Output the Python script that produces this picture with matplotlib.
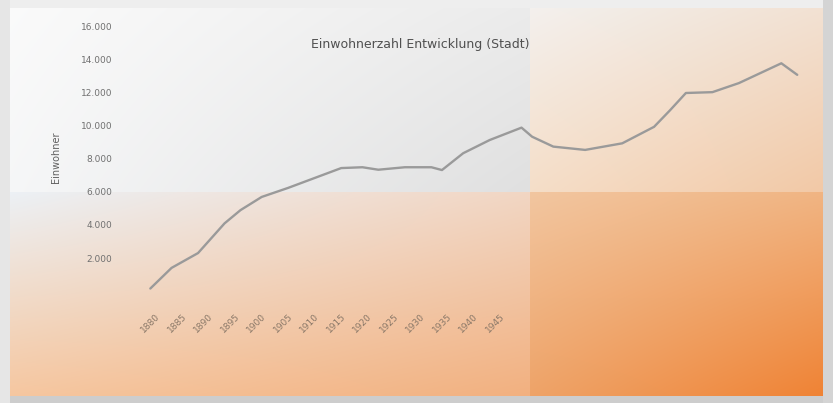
import matplotlib
matplotlib.use("Agg")
import matplotlib.pyplot as plt
import numpy as np

# population series (year, inhabitants)
years = [1880, 1884, 1889, 1894, 1897, 1901, 1906, 1911, 1916, 1920, 1923,
         1928, 1933, 1935, 1939, 1944, 1950, 1952, 1956, 1962, 1969, 1975,
         1978, 1981, 1986, 1991, 1995, 1999, 2002]
values = [150, 1400, 2300, 4100, 4900, 5700, 6250, 6850, 7450, 7500, 7350,
          7500, 7500, 7330, 8350, 9150, 9900, 9350, 8750, 8550, 8950, 9950,
          10950, 12000, 12050, 12600, 13200, 13800, 13100]

xtick_years = list(range(1880, 1950, 5))
ytick_values = list(range(2000, 16001, 2000))
title = "Einwohnerzahl Entwicklung (Stadt)"
ylabel = "Einwohner"

W, H = 833, 403
fig = plt.figure(figsize=(W / 100, H / 100), dpi=100)


def quad(tl, tr, bl, br, h, w):
    """bilinear colour patch from four corner colours"""
    u = np.linspace(0, 1, w)[None, :, None]
    v = np.linspace(0, 1, h)[:, None, None]
    tl, tr, bl, br = [np.array(c, float)[None, None, :] for c in (tl, tr, bl, br)]
    top = tl * (1 - u) + tr * u
    bot = bl * (1 - u) + br * u
    return top * (1 - v) + bot * v


# background: washed-out white top-left, orange towards bottom-right
xs, ys = 530, 192
bg = np.zeros((H, W, 3))
bg[:ys, :xs] = quad((251, 251, 251), (236, 236, 236), (246, 247, 248), (224, 224, 224), ys, xs)
bg[:ys, xs:] = quad((243, 241, 239), (242, 226, 212), (245, 222, 200), (242, 200, 165), ys, W - xs)
bg[ys:, :xs] = quad((236, 241, 246), (242, 214, 195), (246, 198, 158), (242, 175, 125), H - ys, xs)
bg[ys:, xs:] = quad((242, 198, 160), (240, 180, 130), (238, 162, 102), (240, 128, 48), H - ys, W - xs)
# thin frame round the picture
bg[:8, :] = 238
bg[-7:, :] = 205
bg[:, :10] = 230
bg[:, -10:] = 212
bax = fig.add_axes([0, 0, 1, 1])
bax.imshow(bg.astype(np.uint8), aspect="auto", interpolation="bilinear")
bax.axis("off")

ax = fig.add_axes([0.155, 1 - 295 / H, 0.98 - 0.155, (295 - 20) / H])
ax.patch.set_alpha(0)
ax.plot(years, values, color="#9a9a9a", lw=1.7, solid_capstyle="round")

ax.set_xlim(1876, 2005.6)
ax.set_ylim(-242, 16423)
ax.set_xticks(xtick_years)
ax.set_xticklabels([str(y) for y in xtick_years], rotation=45, ha="center",
                   fontsize=6.5, color="#8a7868")
ax.set_yticks(ytick_values)
ax.set_yticklabels(["{:,}".format(v).replace(",", ".") for v in ytick_values],
                   fontsize=6.5, color="#707070")
ax.tick_params(length=0, pad=12)
for s in ax.spines.values():
    s.set_visible(False)

ax.set_ylabel(ylabel, fontsize=7, color="#606060", labelpad=14)
fig.text(0.505, 0.89, title, ha="center", va="center", fontsize=9, color="#505050")

fig.savefig("out.png", dpi=100)
